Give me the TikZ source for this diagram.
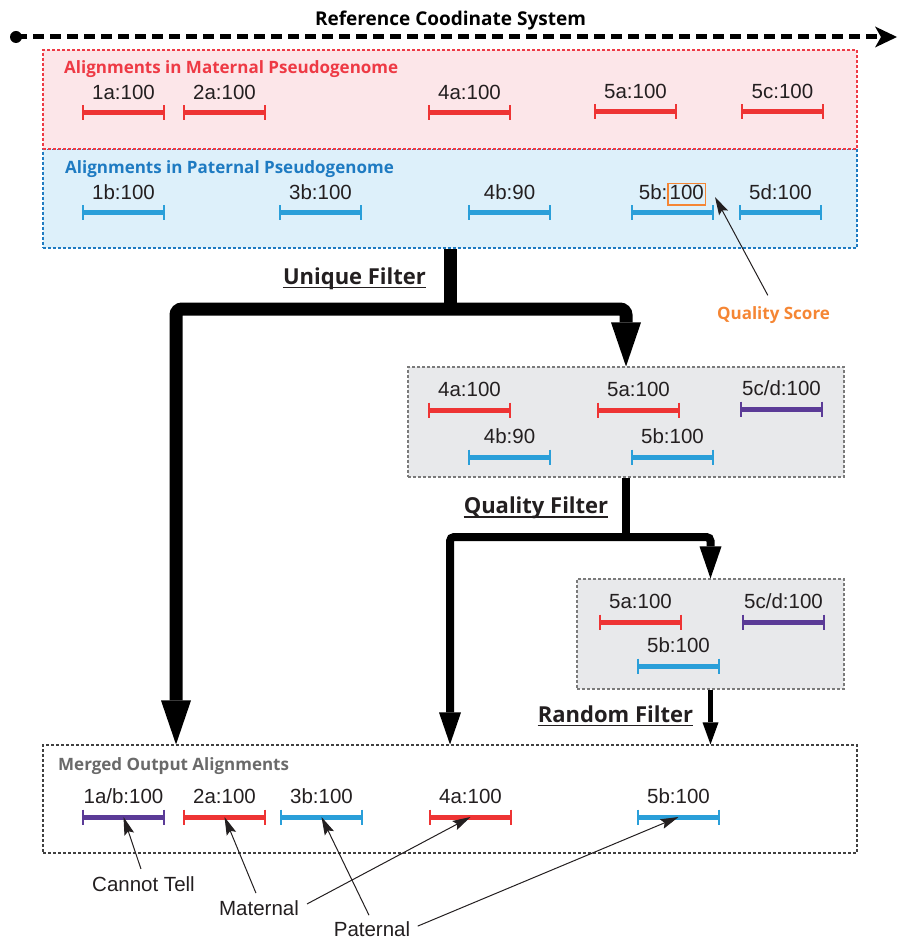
\documentclass[tikz,border=0pt]{standalone}
\usepackage{fontspec}
\setmainfont{Liberation Sans}
\newfontfamily\hfont{Open Sans}
\usetikzlibrary{arrows.meta}
\definecolor{segred}{HTML}{EE3434}
\definecolor{segblue}{HTML}{2A9FD9}
\definecolor{segpurple}{HTML}{5B3B97}
\definecolor{hred}{HTML}{EE3A45}
\definecolor{hblue}{HTML}{1E7BC2}
\definecolor{qorange}{HTML}{F58634}
\definecolor{pinkfill}{HTML}{FCE6E9}
\definecolor{bluefill}{HTML}{DDF0FA}
\definecolor{grayfill}{HTML}{E8E9EB}
\definecolor{boxgray}{HTML}{7A7A7A}
\definecolor{txt}{HTML}{231F20}
\definecolor{mgray}{HTML}{6A6A6A}
\newcommand{\alseg}[5]{%
  \coordinate (#1) at ({#2+40.5},#3);
  \draw[#4, line width=5pt] (#2,#3) -- ({#2+81},#3);
  \draw[#4, line width=2.6pt] (#2,{#3-7.5}) -- (#2,{#3+7.5}) ({#2+81},{#3-7.5}) -- ({#2+81},{#3+7.5});
  \node[lbl] (#1l) at ({#2+40.5},{#3-13.5}) {#5};
}
\begin{document}
\begin{tikzpicture}[x=1pt,y=-1pt,
  lbl/.style={font=\fontsize{20.5}{24}\selectfont, text=txt, inner sep=0pt, anchor=base},
  hdg/.style={font=\hfont\bfseries\fontsize{17}{20}\selectfont, inner sep=0pt, anchor=base west},
  filt/.style={font=\hfont\bfseries\fontsize{22}{26}\selectfont, text=txt, inner sep=0pt, anchor=base},
  callout/.style={-{Stealth[length=18pt,width=10pt,inset=3pt]}, line width=1pt, txt},
  boxdash/.style={line width=1.1pt, dash pattern=on 3pt off 2pt},
]
\useasboundingbox (0,0) rectangle (897,941);

% reference axis
\node[font=\hfont\bfseries\fontsize{19}{22}\selectfont, inner sep=0pt, anchor=base] (rt) at (450.5,25.5) {Reference Coodinate System};
\node[circle, fill=black, inner sep=0pt, minimum size=12pt] (o) at (16,37) {};
\coordinate (axend) at (897,37);
\draw[line width=5pt, dash pattern=on 11pt off 6pt, -{Stealth[length=22pt,width=21pt,inset=6pt,line width=0pt]}] (o.center) -- (axend);

% pseudogenome boxes
\node[draw=hblue, fill=bluefill, boxdash, minimum width=814pt, minimum height=99pt, inner sep=0pt] (pat) at (450,198.5) {};
\node[draw=hred, fill=pinkfill, boxdash, minimum width=814pt, minimum height=99pt, inner sep=0pt] (mat) at (450,99.5) {};
\node[hdg, text=hred] (math) at (64,73.5) {Alignments in Maternal Pseudogenome};
\node[hdg, text=hblue] (path) at (65,173.5) {Alignments in Paternal Pseudogenome};

\alseg{m1}{83}{113}{segred}{1a:100}
\alseg{m2}{184}{113}{segred}{2a:100}
\alseg{m4}{429}{113}{segred}{4a:100}
\alseg{m5}{595}{112}{segred}{5a:100}
\alseg{m5c}{742}{112}{segred}{5c:100}

\alseg{p1}{83}{213}{segblue}{1b:100}
\alseg{p3}{280}{213}{segblue}{3b:100}
\alseg{p4}{469}{213}{segblue}{4b:90}
\alseg{p5}{632}{213}{segblue}{5b:{\fboxsep=1pt\fboxrule=1.3pt\fcolorbox{qorange}{bluefill}{\rule[-4pt]{0pt}{17pt}100}}}
\alseg{p5d}{740}{213}{segblue}{5d:100}

% quality score callout
\node[font=\hfont\bfseries\fontsize{17}{20}\selectfont, text=qorange, inner sep=0pt, anchor=base] (qs) at (773.5,319) {Quality Score};
\coordinate (qtip) at (715,197);
\draw[callout, shorten <=12pt] (qs.north) -- (qtip);

% filter boxes
\node[draw=boxgray, fill=grayfill, boxdash, minimum width=436pt, minimum height=110pt, inner sep=0pt] (qbox) at (626,422) {};
\node[draw=boxgray, fill=grayfill, boxdash, minimum width=267pt, minimum height=110pt, inner sep=0pt] (rbox) at (710.5,634) {};
\node[draw=black!75, boxdash, minimum width=814pt, minimum height=108pt, inner sep=0pt] (mbox) at (450,799) {};

\alseg{q4a}{429}{410}{segred}{4a:100}
\alseg{q5a}{598}{410}{segred}{5a:100}
\alseg{q5c}{741}{409}{segpurple}{5c/d:100}
\alseg{q4b}{469}{457}{segblue}{4b:90}
\alseg{q5b}{632}{457}{segblue}{5b:100}

\alseg{r5a}{600}{622}{segred}{5a:100}
\alseg{r5c}{743}{622}{segpurple}{5c/d:100}
\alseg{r5b}{638}{666}{segblue}{5b:100}

\node[hdg, text=mgray] (mh) at (58,770.5) {Merged Output Alignments};
\alseg{o1}{83}{817}{segpurple}{1a/b:100}
\alseg{o2}{184}{817}{segred}{2a:100}
\alseg{o3}{281}{817}{segblue}{3b:100}
\alseg{o4}{430}{817}{segred}{4a:100}
\alseg{o5}{638}{817}{segblue}{5b:100}

% Unique filter
\coordinate (uL) at (176,309);
\coordinate (uR) at (626,309);
\draw[line width=13pt] (pat.south) -- (pat.south |- uL);
\draw[line width=13pt, rounded corners=6pt, {Triangle[length=44pt,width=30pt,line width=0pt]}-{Triangle[length=44pt,width=30pt,line width=0pt]}] (uL |- mbox.north) -- (uL) -- (uR) -- (qbox.north);
\node[filt] (uf) at (354.5,284) {Unique Filter};
\draw[line width=1.6pt, txt] ([yshift=-3.5pt]uf.base west) -- ([yshift=-3.5pt]uf.base east);

% Quality filter
\coordinate (qL) at (450,537);
\draw[line width=8pt] (qbox.south) -- (qbox.south |- qL);
\draw[line width=8pt, rounded corners=4pt, {Triangle[length=32pt,width=22pt,line width=0pt]}-{Triangle[length=32pt,width=22pt,line width=0pt]}] (qL |- mbox.north) -- (qL) -- (qL -| rbox.north) -- (rbox.north);
\node[filt] (qf) at (536,513.5) {Quality Filter};
\draw[line width=1.6pt, txt] ([yshift=-3.5pt]qf.base west) -- ([yshift=-3.5pt]qf.base east);

% Random filter
\draw[line width=5pt, -{Triangle[length=22pt,width=16pt,line width=0pt]}] (rbox.south) -- (rbox.south |- mbox.north);
\node[filt] (rf) at (615.5,722.5) {Random Filter};
\draw[line width=1.6pt, txt] ([yshift=-3pt]rf.base west) -- ([yshift=-3pt]rf.base east);

% bottom callouts
\node[lbl] (ct) at (143.5,891.5) {Cannot Tell};
\node[lbl] (ma) at (259,915.5) {Maternal};
\node[lbl] (pa) at (372,936.5) {Paternal};
\draw[callout, shorten <=8pt] (ct.north) -- (o1);
\draw[callout, shorten <=8pt] (ma.north) -- (o2);
\draw[callout, shorten <=9pt] (ma.east) -- (o4);
\draw[callout, shorten <=7pt] (pa.north) -- (o3);
\draw[callout, shorten <=8pt] (pa.east) -- (o5);
\end{tikzpicture}
\end{document}
